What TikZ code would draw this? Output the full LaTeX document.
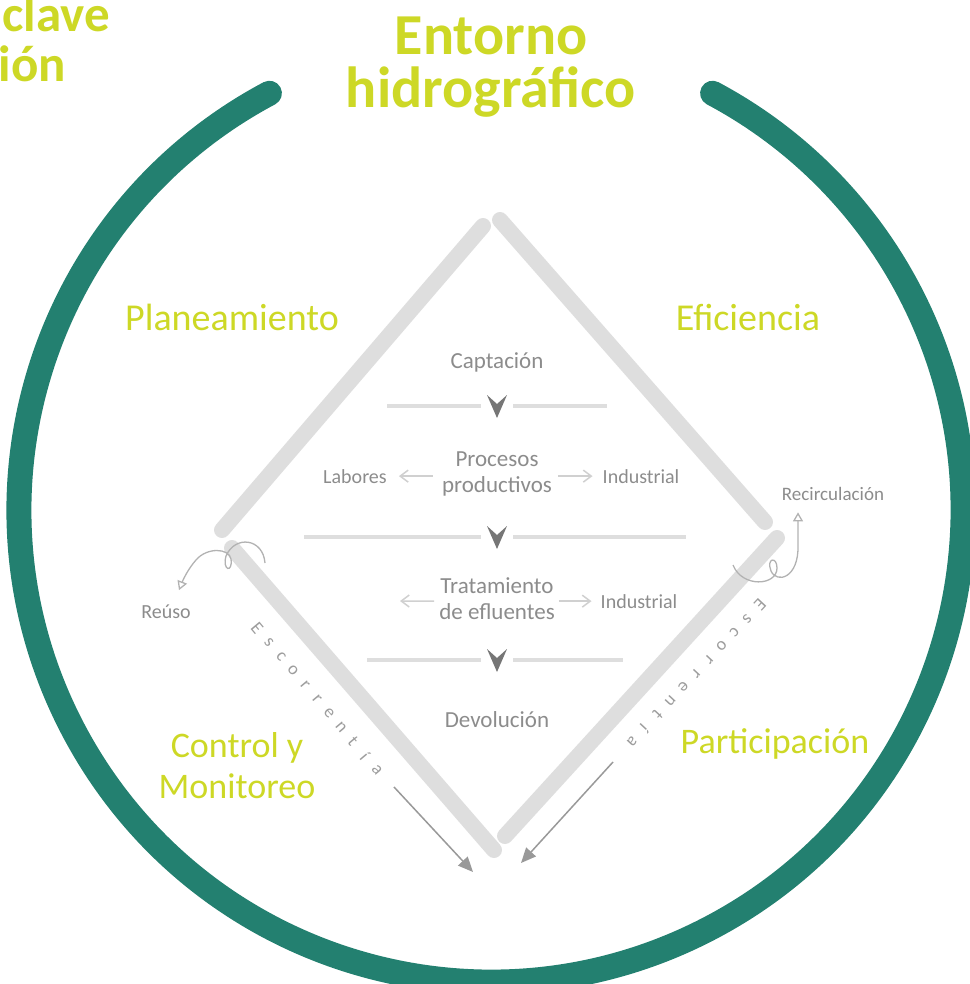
\documentclass[tikz,border=0pt]{standalone}
\usepackage{fontspec}
\setmainfont{Carlito}
\usetikzlibrary{arrows.meta,calc}
\definecolor{ringgreen}{RGB}{35,128,112}
\definecolor{lime}{RGB}{205,216,38}
\definecolor{railgray}{RGB}{222,222,222}
\definecolor{textgray}{RGB}{140,140,140}
\definecolor{tipgray}{RGB}{118,118,118}
\definecolor{sidegray}{RGB}{208,208,208}
\newcommand{\downtip}[2]{\fill[tipgray] (#1-10,#2-11) -- (#1,#2+12) -- (#1+10,#2-11) -- (#1,#2-2) -- cycle;}
\begin{document}
\begin{tikzpicture}
		[x=1pt,y=-1pt,
		ring/.style={draw=ringgreen,line width=25pt,line cap=round},
		rail/.style={draw=railgray,line width=16pt,line cap=round},
		sepline/.style={draw=railgray,line width=4pt},
		headline/.style={inner sep=0pt,text=lime,font=\fontsize{58}{60}\selectfont\bfseries},
		pillar/.style={inner sep=0pt,text=lime,font=\fontsize{38}{41}\selectfont,align=center},
		stage/.style={inner sep=0pt,text=textgray,font=\fontsize{23}{26}\selectfont,align=center},
		branch/.style={inner sep=0pt,text=textgray,font=\fontsize{20}{22}\selectfont},
		runtext/.style={inner sep=0pt,text=textgray!85!white,font=\fontsize{18}{18}\selectfont},
		side/.style={draw=sidegray,line width=1.5pt,-{Straight Barb[length=8pt,width=12pt]}},
		runoff/.style={draw=gray!80,line width=1.5pt,-{Triangle[length=15pt,width=13pt]}},
		curl/.style={draw=gray!60,line width=1.3pt,-{Triangle[open,length=9pt,width=10pt]}}
		]
		\useasboundingbox (0,0) rectangle (969,984);
		\draw[ring] (491,510) ++(242:472) arc[start angle=242,end angle=-62,radius=472];

		\node[headline,font=\fontsize{51}{51}\selectfont\bfseries,anchor=base east] (clave) at (110,32){clave};
		\node[headline,font=\fontsize{51}{51}\selectfont\bfseries,anchor=base east] (ion) at (66,82){ión};
		\node[headline,anchor=base] (entorno) at (491,55){Entorno};
		\node[headline,anchor=base] (hidro) at (491,108){hidrográfico};

		\draw[rail] (483,226) -- (222,530);
		\draw[rail] (500,220) -- (765,522);
		\draw[rail] (232,548) -- (494,850);
		\draw[rail] (777,538) -- (505,836);

\node[pillar,anchor=base] (plan) at (232,330){Planeamiento};
\node[pillar,anchor=base] (efic) at (748,330){Eficiencia};
\node[pillar,anchor=base,font=\fontsize{36}{41}\selectfont] (partic) at (775,753){Participación};
\node[pillar,font=\fontsize{36}{41}\selectfont] (control) at (237,766){Control y\\Monitoreo};

\node[stage,anchor=base] (capt) at (497,368){Captación};
\node[stage] (proc) at (497,474){Procesos\\productivos};
\node[stage] (trat) at (497,599){Tratamiento\\de efluentes};
\node[stage,anchor=base] (devol) at (497,727){Devolución};
\node[branch,anchor=base] (lab) at (355,483){Labores};
\node[branch,anchor=base] (ind1) at (641,483){Industrial};
\node[branch,anchor=base] (ind2) at (639,608){Industrial};
\node[branch,anchor=base] (reuso) at (166,618){Reúso};
\node[branch,anchor=base,font=\fontsize{19}{20}\selectfont] (recirc) at (833,500){Recirculación};

		\foreach \y/\l/\r in {406/387/607,537/304/686,660/367/623}{
			\draw[sepline] (\l,\y) -- (481,\y) (513,\y) -- (\r,\y);
			\downtip{497}{\y}
		}

		\coordinate (lfree) at (400,601);
		\draw[side,shorten <=9pt,shorten >=12pt] (proc.west |- lab) -- (lab);
		\draw[side,shorten <=6pt,shorten >=10pt] (proc.east |- ind1) -- (ind1);
		\draw[side,shorten <=5pt] (trat.west |- ind2) -- (lfree);
		\draw[side,shorten <=4pt,shorten >=9pt] (trat.east |- ind2) -- (ind2);

		\coordinate (lknot) at (265,563);
		\coordinate (rknot) at (733,565);
		\draw[curl] (lknot) .. controls (263,538) and (235,535) .. (226,556) .. controls (222,571) and (233,573) .. (231,559) .. controls (229,548) and (207,547) .. (196,560) .. controls (188,569) and (183,580) .. ([xshift=13pt,yshift=14pt]reuso.north);
		\draw[curl] (rknot) .. controls (742,588) and (777,586) .. (777,568) .. controls (777,556) and (766,558) .. (771,571) .. controls (777,584) and (799,578) .. (798,545) -- ([xshift=-35pt,yshift=-12pt]recirc.south);

		\foreach \ch [count=\i from 0] in {E,s,c,o,r,r,e,n,t,í,a}{
			\node[runtext,rotate=-50] (escl\i) at ($(257,628)!\i/10!(377,770)$){\ch};
			\node[runtext,rotate=-133] (escr\i) at ($(760,605)!\i/10!(632,742)$){\ch};
		}
		\coordinate (lrun) at (394,787);
		\coordinate (lrunend) at (473,872);
		\coordinate (rrun) at (613,762);
		\coordinate (rrunend) at (521,863);
		\draw[runoff] (lrun) -- (lrunend);
		\draw[runoff] (rrun) -- (rrunend);
	\end{tikzpicture}
\end{document}
